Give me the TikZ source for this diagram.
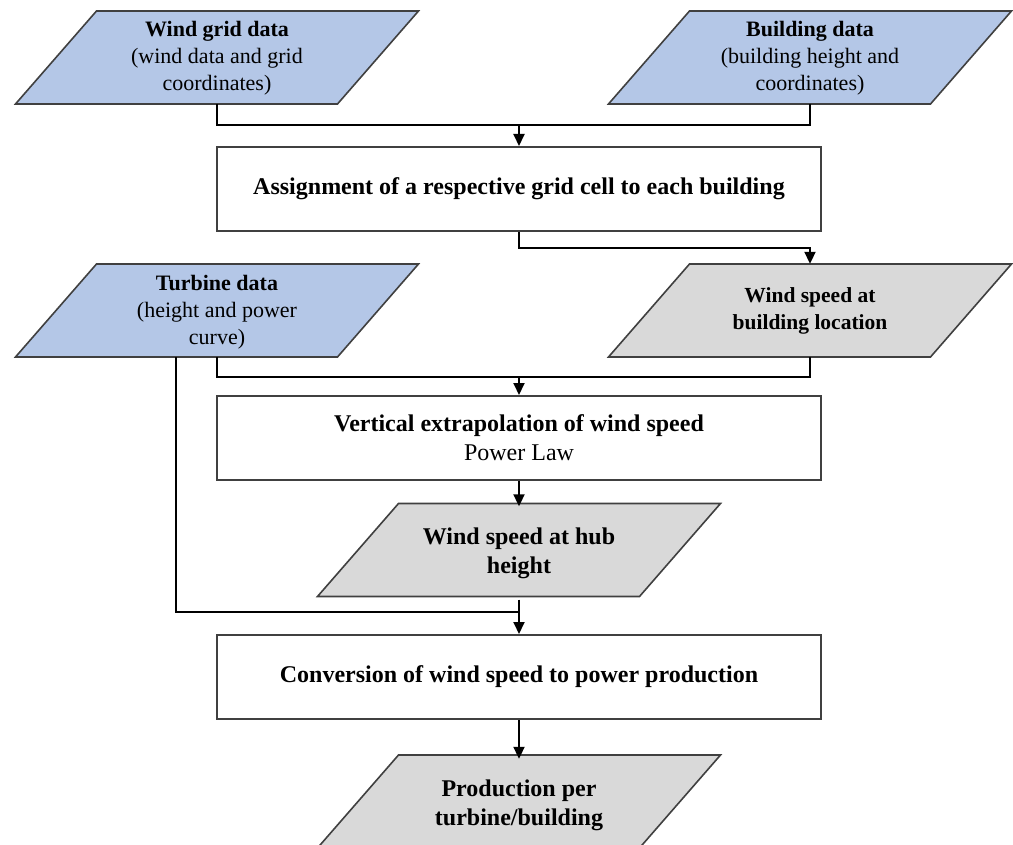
\documentclass[tikz,border=0pt]{standalone}
\usepackage{fontspec}
\setmainfont{Liberation Serif}
\usetikzlibrary{arrows.meta,calc}
\definecolor{inblue}{HTML}{B4C7E7}
\definecolor{outgray}{HTML}{D9D9D9}
\definecolor{edgegray}{HTML}{404040}
\newcommand{\pgram}[6]{%
  \draw[pgline,fill=#4] (#2-120.5,#3-46.5) -- (#2+201.5,#3-46.5) -- (#2+120.5,#3+46.5) -- (#2-201.5,#3+46.5) -- cycle;
  \node[pgtext,#6] (#1) at (#2,#3) {#5};
}
\begin{document}
\begin{tikzpicture}[x=1pt,y=-1pt,
  smallfont/.style={font=\fontsize{22}{27}\selectfont},
  bigfont/.style={font=\fontsize{24}{29}\selectfont},
  pgline/.style={draw=edgegray,line width=1.6pt,line join=miter},
  pgtext/.style={shape=rectangle,minimum width=322pt,minimum height=93pt,inner sep=0pt,align=center,text=black},
  procbox/.style={bigfont,draw=edgegray,line width=2pt,fill=white,minimum width=604pt,minimum height=84pt,inner sep=0pt,align=center},
  conn/.style={draw=black,line width=2pt},
  arr/.style={conn,-{Triangle[width=11pt,length=12pt]}}
]
\useasboundingbox[fill=white] (0,0) rectangle (1013,845);

% input / output parallelograms
\pgram{wg}{217}{57.5}{inblue}{\textbf{Wind grid data}\\(wind data and grid\\coordinates)}{smallfont,yshift=-1pt}
\pgram{bd}{810}{57.5}{inblue}{\textbf{Building data}\\(building height and\\coordinates)}{smallfont,yshift=-1pt}
\pgram{tu}{217}{310.5}{inblue}{\textbf{Turbine data}\\(height and power\\curve)}{smallfont,yshift=-2pt}
\pgram{ws}{810}{310.5}{outgray}{\textbf{Wind speed at}\\\textbf{building location}}{font=\fontsize{21.5}{27}\selectfont}
\pgram{hub}{519}{550}{outgray}{\textbf{Wind speed at hub}\\\textbf{height}}{bigfont,yshift=-3pt}
\pgram{prod}{519}{801.5}{outgray}{\textbf{Production per}\\\textbf{turbine/building}}{bigfont,yshift=-4pt}

% process boxes
\node[procbox] (as) at (519,189) {\textbf{Assignment of a respective grid cell to each building}};
\node[procbox] (ve) at (519,438) {\textbf{Vertical extrapolation of wind speed}\\Power Law};
\node[procbox] (cv) at (519,677) {\textbf{Conversion of wind speed to power production}};

% junctions
\coordinate (j1) at (519,125);
\coordinate (j2) at (810,248);
\coordinate (j3) at (519,377);
\coordinate (j4) at (519,612);
\coordinate (tuleft) at (176,357);
\coordinate (wgb) at (217,104);
\coordinate (bdb) at (810,104);
\coordinate (tub) at (217,357);
\coordinate (wsb) at (810,357);

% connectors
\draw[conn] (wgb) |- (j1);
\draw[conn] (bdb) |- (j1);
\draw[arr] (j1) -- (as.north);
\draw[arr] (as.south) |- (j2) -- (ws.north);
\draw[conn] (tub) |- (j3);
\draw[conn] (wsb) |- (j3);
\draw[arr] (j3) -- (ve.north);
\draw[arr] (ve.south) -- (hub.north);
\draw[conn] (tuleft) |- (j4);
\draw[conn] (hub.south) -- (j4);
\draw[arr] (j4) -- (cv.north);
\draw[arr] (cv.south) -- (prod.north);
\end{tikzpicture}
\end{document}
